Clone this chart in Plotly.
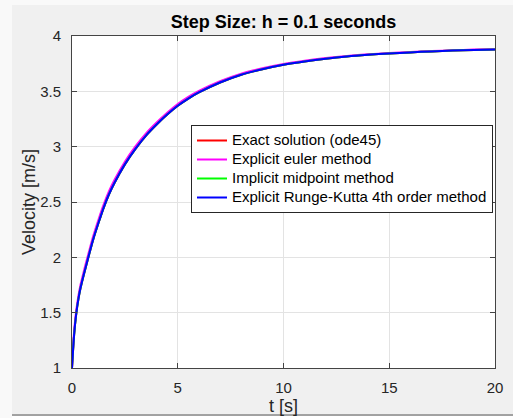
import plotly.graph_objects as go

# ---- data ----
t = [0, 0.1, 0.2, 0.3, 0.4, 0.5, 0.6, 0.8, 1.0, 1.25, 1.5, 1.75, 2.0, 2.5, 3.0, 3.5, 4.0, 4.5,
     5.0, 5.5, 6.0, 7.0, 8.0, 9.0, 10, 11, 12, 13, 14, 15, 16, 17, 18, 19, 20]
v_exact = [1.00, 1.30, 1.49, 1.62, 1.72, 1.80, 1.875, 2.02, 2.16, 2.31, 2.45, 2.57, 2.67, 2.84, 2.98,
           3.10, 3.20, 3.29, 3.37, 3.435, 3.49, 3.58, 3.65, 3.70, 3.74, 3.77, 3.795, 3.815, 3.83,
           3.842, 3.852, 3.861, 3.868, 3.874, 3.879]
v_euler = [1.00, 1.33, 1.52, 1.65, 1.75, 1.83, 1.905, 2.05, 2.19, 2.34, 2.478, 2.597, 2.696, 2.864,
           3.002, 3.12, 3.218, 3.307, 3.386, 3.45, 3.504, 3.592, 3.66, 3.709, 3.748, 3.777, 3.801,
           3.82, 3.835, 3.846, 3.856, 3.864, 3.871, 3.877, 3.881]
v_midpoint = [1.00, 1.30, 1.49, 1.62, 1.72, 1.80, 1.875, 2.02, 2.16, 2.31, 2.45, 2.57, 2.67, 2.84, 2.98,
              3.10, 3.20, 3.29, 3.37, 3.435, 3.49, 3.58, 3.65, 3.70, 3.74, 3.77, 3.795, 3.815, 3.83,
              3.842, 3.852, 3.861, 3.868, 3.874, 3.879]
v_rk4 = [1.00, 1.30, 1.49, 1.62, 1.72, 1.80, 1.875, 2.02, 2.16, 2.31, 2.45, 2.57, 2.67, 2.84, 2.98,
         3.10, 3.20, 3.29, 3.37, 3.435, 3.49, 3.58, 3.65, 3.70, 3.74, 3.77, 3.795, 3.815, 3.83,
         3.842, 3.852, 3.861, 3.868, 3.874, 3.879]

names = ["Exact solution (ode45)", "Explicit euler method",
         "Implicit midpoint method", "Explicit Runge-Kutta 4th order method"]
colors = ["#ff0000", "#ff00ff", "#00ff00", "#0000ff"]
series = [v_exact, v_euler, v_midpoint, v_rk4]

x_ticks = [0, 5, 10, 15, 20]
y_ticks = [1, 1.5, 2, 2.5, 3, 3.5, 4]

W, H = 513, 418
L, R, T, B = 72, 18, 36, 50
pw, ph = W - L - R, H - T - B

def px(x):
    return (x - L) / pw

def py(y):
    return (H - B - y) / ph

fig = go.Figure()
for name, col, v in zip(names, colors, series):
    fig.add_trace(go.Scatter(x=t, y=v, mode="lines",
                             name=f"<span style='font-size:15px'>{name}</span>",
                             line=dict(color=col, width=2, shape="spline", smoothing=0.8)))

font_family = "Liberation Sans, Arial, Helvetica, sans-serif"
axis_common = dict(
    showgrid=True, gridcolor="#e3e3e3", gridwidth=1,
    showline=True, linecolor="#444444", linewidth=1, mirror="ticks",
    ticks="inside", ticklen=5, tickcolor="#444444",
    zeroline=False,
    tickfont=dict(family=font_family, size=15, color="#262626"),
)

fig.update_layout(
    width=W, height=H,
    margin=dict(l=L, r=R, t=T, b=B, autoexpand=False),
    paper_bgcolor="#f0f0f0", plot_bgcolor="#ffffff",
    font=dict(family=font_family, color="#262626"),
    title=dict(text="<b>Step Size: h = 0.1 seconds</b>", x=0.5, xref="paper",
               y=1 - 22 / H, yref="container", yanchor="middle", xanchor="center",
               font=dict(family=font_family, size=18, color="#000000")),
    xaxis=dict(range=[0, 20], tickvals=x_ticks, ticktext=[str(v) for v in x_ticks],
               ticklabelstandoff=6,
               title=dict(text="t [s]", standoff=4,
                          font=dict(family=font_family, size=18, color="#262626")),
               **axis_common),
    yaxis=dict(range=[1, 4], tickvals=y_ticks, ticktext=[f"{v:g}" for v in y_ticks],
               ticklabelstandoff=7,
               **axis_common),
    legend=dict(x=px(191), y=py(125), xanchor="left", yanchor="top",
                bgcolor="#ffffff", bordercolor="#262626", borderwidth=1,
                font=dict(family=font_family, size=11, color="#000000"),
                itemwidth=30, tracegroupgap=0),
    showlegend=True,
    annotations=[
        dict(text="Velocity [m/s]", textangle=-90, xref="paper", yref="paper",
             x=px(29), y=0.5, xanchor="center", yanchor="middle", showarrow=False,
             font=dict(family=font_family, size=18, color="#262626")),
    ],
    shapes=[
        dict(type="rect", xref="paper", yref="paper", x0=px(-5), x1=px(12), y0=py(420), y1=py(-5),
             fillcolor="#f9f9f9", line=dict(width=0), layer="below"),
        dict(type="rect", xref="paper", yref="paper", x0=px(12), x1=px(520), y0=py(5), y1=py(-5),
             fillcolor="#f9f9f9", line=dict(width=0), layer="below"),
        dict(type="rect", xref="paper", yref="paper", x0=px(12), x1=px(520), y0=py(420), y1=py(414),
             fillcolor="#ffffff", line=dict(width=0), layer="below"),
        dict(type="line", xref="paper", yref="paper", x0=px(12), x1=px(520), y0=py(415), y1=py(415),
             line=dict(color="#444444", width=1)),
    ],
)

fig.write_html("out.html")
